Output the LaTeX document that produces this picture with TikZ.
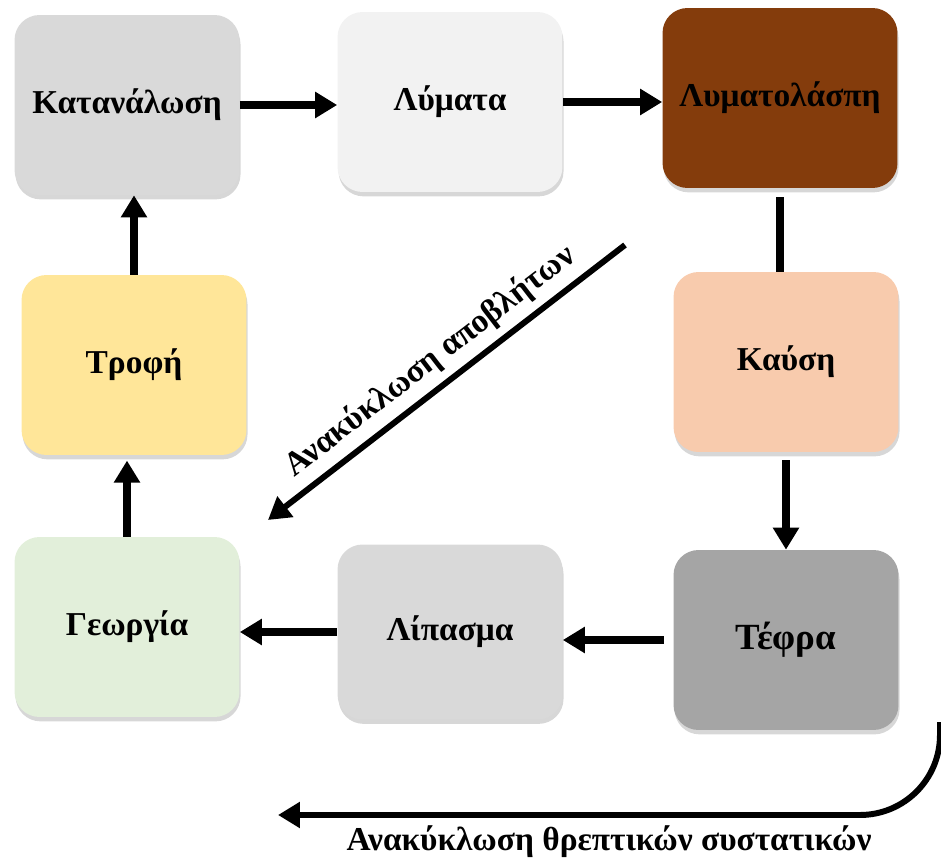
\documentclass[tikz,border=0pt]{standalone}
\usepackage{fontspec}
\setmainfont{Liberation Serif}
\usetikzlibrary{arrows.meta,shadows}

\definecolor{consgray}{HTML}{D9D9D9}
\definecolor{wastegray}{HTML}{F2F2F2}
\definecolor{sludge}{HTML}{843C0C}
\definecolor{food}{HTML}{FFE699}
\definecolor{burn}{HTML}{F8CBAD}
\definecolor{agri}{HTML}{E2EFDA}
\definecolor{fert}{HTML}{D9D9D9}
\definecolor{ash}{HTML}{A5A5A5}

\begin{document}
\begin{tikzpicture}[
		x=0.02cm, y=-0.02cm,
		font=\fontsize{19}{22}\selectfont\bfseries,
		stage/.style = {
			rectangle,
			rounded corners=0.5cm,
			minimum width=4.5cm,
			minimum height=3.6cm,
			drop shadow={shadow xshift=0.6pt, shadow yshift=-2.5pt, opacity=0.35, fill=black!45}
		},
		flow/.style = {line width=4pt, -{Triangle[length=0.44cm,width=0.5cm]}},
		back/.style = {line width=3.4pt, {Triangle[length=0.44cm,width=0.5cm]}-},
		link/.style = {line width=4pt}
	]
	\useasboundingbox (0,0) rectangle (941,858);
	\node[stage, fill=consgray]                        (katan)  at (127,105) {Κατανάλωση};
	\node[stage, fill=wastegray]                       (lymata) at (450,102) {Λύματα};
	\node[stage, fill=sludge, minimum width=4.7cm]     (lasp)   at (780,98)  {Λυματολάσπη};
	\node[stage, fill=food]                            (trofi)  at (134,365) {Τροφή};
	\node[stage, fill=burn]                            (kaysi)  at (786,362) {Καύση};
	\node[stage, fill=agri]                            (georg)  at (127,627) {Γεωργία};
	\node[stage, fill=fert, minimum height=3.5cm]      (lip)    at (450,632) {Λίπασμα};
	\node[stage, fill=ash, font=\fontsize{21}{24}\selectfont\bfseries] (tefra) at (786,640) {Τέφρα};

	% main loop
	\draw[flow] (katan.east) -- (katan.east -| lymata.west);
	\draw[flow] (lymata.east) -- (lymata.east -| lasp.west);
	\draw[link, shorten <=5pt] (lasp.south) -- (lasp.south |- kaysi.north);
	\draw[flow, shorten <=4.5pt] (kaysi.south) -- (kaysi.south |- tefra.north);
	\draw[flow, shorten <=5.5pt] (tefra.west) -- (tefra.west -| lip.east);
	\draw[flow] (lip.west) -- (lip.west -| georg.east);
	\draw[flow, shorten >=3pt] (georg.north) -- (georg.north |- trofi.south);
	\draw[flow] (trofi.north) -- (trofi.north |- katan.south);

	% recycling
	\coordinate (recA) at (625,245);
	\coordinate (recB) at (268,520);
	\draw[back] (recB) -- node[sloped, above=1pt] {Ανακύκλωση αποβλήτων} (recA);

	\coordinate (nutA) at (940,722);
	\coordinate (nutB) at (278,815);
	\draw[flow, line width=3.4pt, rounded corners=1.6cm] (nutA) |- node[pos=0.75, below=1pt] {Ανακύκλωση θρεπτικών συστατικών} (nutB);
\end{tikzpicture}
\end{document}
